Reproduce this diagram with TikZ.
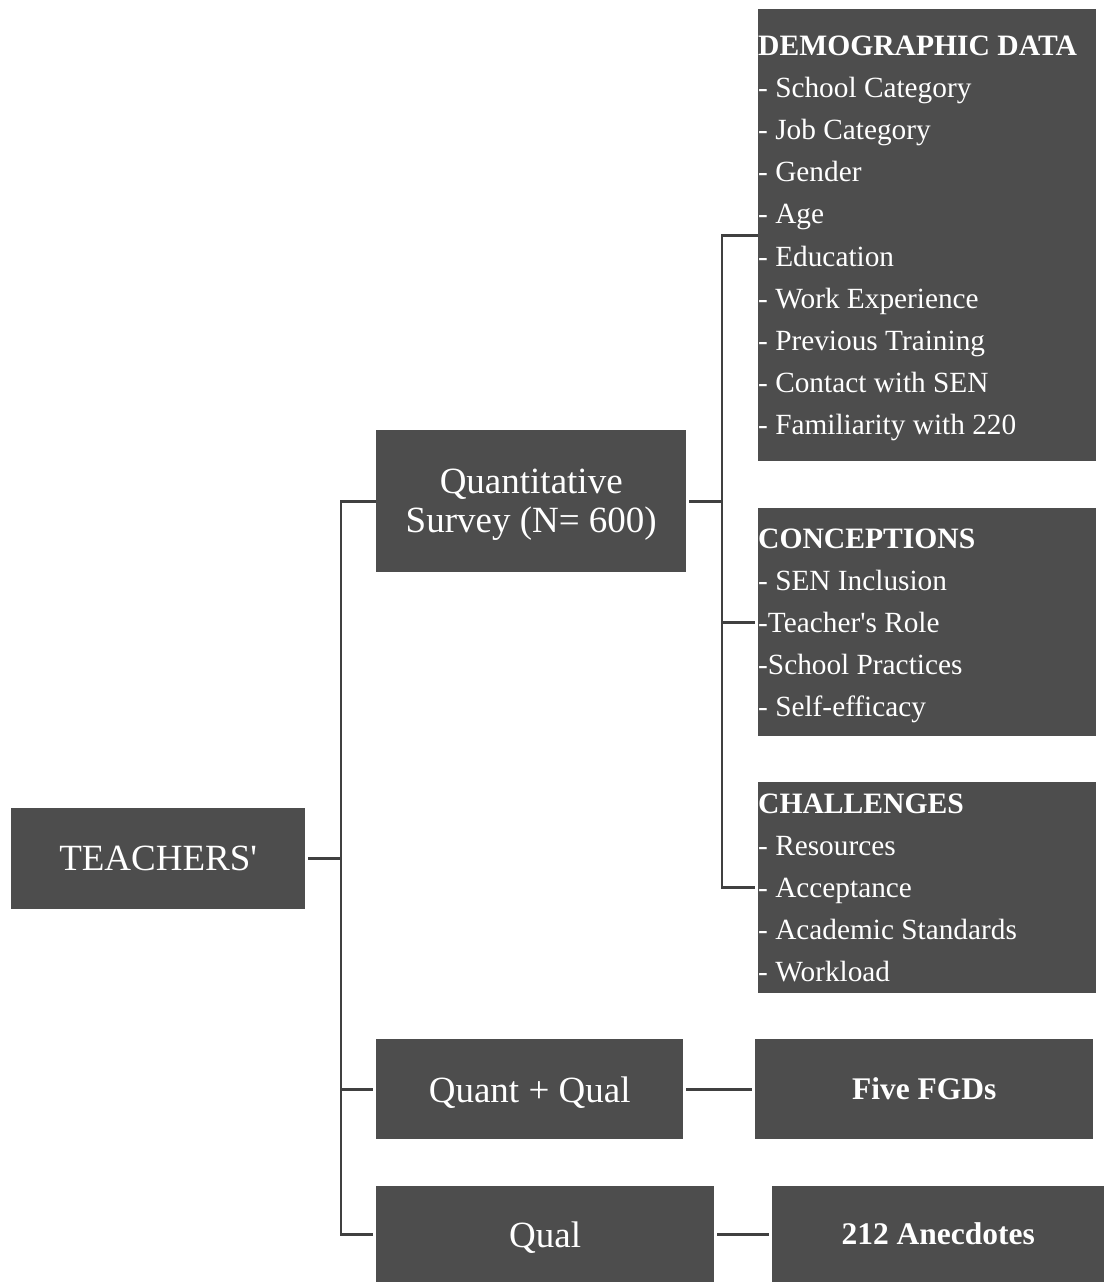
\documentclass[tikz,border=0pt]{standalone}
\usepackage{fontspec}
\setmainfont{Liberation Serif}
\usetikzlibrary{calc}

\definecolor{boxgray}{HTML}{4D4D4D}
\definecolor{linegray}{HTML}{404040}

\tikzset{
  box/.style={fill=boxgray, draw=none, inner sep=0pt, text=white, anchor=north west},
  bigtext/.style={font=\fontsize{37}{39}\selectfont, align=center, text depth=0pt},
  boldtext/.style={font=\bfseries\fontsize{31.5}{33}\selectfont},
  item/.style={text=white, inner sep=0pt, anchor=base west, font=\fontsize{29.3}{42}\selectfont},
  head/.style={item, font=\bfseries\fontsize{29.6}{42}\selectfont},
  conn/.style={draw=linegray, line width=2.6pt, line join=miter},
}

\begin{document}
\begin{tikzpicture}[x=1pt, y=-1pt]
  \useasboundingbox (0,0) rectangle (1104,1282);

  % main boxes
  \node[box, bigtext, minimum width=294pt, minimum height=101pt] (teach) at (11,808) {TEACHERS\textquotesingle};
  \node[box, bigtext, minimum width=310pt, minimum height=142pt] (quant) at (376,430) {Quantitative\\Survey (N= 600)};
  \node[box, bigtext, minimum width=307pt, minimum height=100pt] (mixed) at (376,1039) {Quant + Qual};
  \node[box, bigtext, minimum width=338pt, minimum height=96pt] (qual) at (376,1186) {Qual};

  % right-hand boxes
  \node[box, boldtext, minimum width=338pt, minimum height=100pt] (fgd) at (755,1039) {Five FGDs};
  \node[box, boldtext, minimum width=332pt, minimum height=96pt] (anec) at (772,1186) {212 Anecdotes};

  \node[box, minimum width=338pt, minimum height=452pt] (demo) at (758,9) {};
  \node[box, minimum width=338pt, minimum height=228pt] (conc) at (758,508) {};
  \node[box, minimum width=338pt, minimum height=211pt] (chal) at (758,782) {};

  % list contents
  \node[head] (demo-0) at (758,55) {DEMOGRAPHIC DATA};
  \foreach \t [count=\i] in {{- School Category},{- Job Category},{- Gender},{- Age},
      {- Education},{- Work Experience},{- Previous Training},{- Contact with SEN},
      {- Familiarity with 220}}
    \node[item] (demo-\i) at (758,{55+42.2*\i}) {\t};

  \node[head] (conc-0) at (758,548) {CONCEPTIONS};
  \foreach \t [count=\i] in {{- SEN Inclusion},{-Teacher\textquotesingle s Role},{-School Practices},{- Self-efficacy}}
    \node[item] (conc-\i) at (758,{548+42.2*\i}) {\t};

  \node[head] (chal-0) at (758,813) {CHALLENGES};
  \foreach \t [count=\i] in {{- Resources},{- Acceptance},{- Academic Standards},{- Workload}}
    \node[item] (chal-\i) at (758,{813+42.2*\i}) {\t};

  % bus positions
  \coordinate (busL) at (341,0);
  \coordinate (busR) at (722,0);

  % left bracket
  \draw[conn, shorten <=3pt] (teach.east) -- (teach.east -| busL);
  \draw[conn, shorten >=3pt] (quant.west) -- (quant.west -| busL) |- (qual.west);
  \draw[conn, shorten >=3pt] (mixed.west -| busL) -- (mixed.west);

  % right bracket
  \draw[conn, shorten <=3pt] (quant.east) -- (quant.east -| busR);
  \draw[conn, shorten >=3pt] (demo.west) -- (demo.west -| busR) |- (chal.west);
  \draw[conn, shorten >=3pt] (conc.west -| busR) -- (conc.west);

  % direct links
  \draw[conn, shorten <=3pt, shorten >=3pt] (mixed.east) -- (fgd.west);
  \draw[conn, shorten <=3pt, shorten >=3pt] (qual.east) -- (anec.west);
\end{tikzpicture}
\end{document}
